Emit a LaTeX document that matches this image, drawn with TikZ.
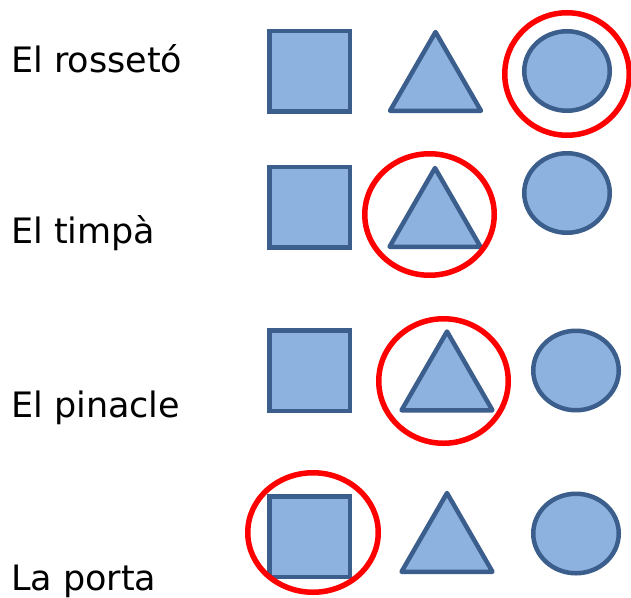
\documentclass[tikz,border=0pt]{standalone}
\usepackage{fontspec}
\setmainfont{DejaVu Sans}
\usepackage{tikz}
\usetikzlibrary{shapes.geometric}

\definecolor{bfill}{HTML}{8EB2E0}
\definecolor{bline}{HTML}{3B5E8C}

\begin{document}
\begin{tikzpicture}[x=1pt,y=1pt]
\tikzstyle{lbl}=[anchor=base west,inner sep=0pt,font=\fontsize{35}{40}\selectfont]
\tikzstyle{bsq}=[rectangle,draw=bline,fill=bfill,line width=4.5pt,inner sep=0pt,minimum size=80.5pt]
\tikzstyle{btri}=[regular polygon,regular polygon sides=3,draw=bline,fill=bfill,line width=4.5pt,line join=round,inner sep=0pt,minimum size=105pt]
\tikzstyle{bcirc}=[ellipse,draw=bline,fill=bfill,line width=4.5pt,inner sep=0pt,minimum width=85.5pt,minimum height=79.5pt]
\tikzstyle{rsel}=[ellipse,draw=red,line width=5.5pt,inner sep=0pt]
\useasboundingbox (0,0) rectangle (631,-597);

% El rosseto
\node[lbl] (rosseto) at (11,-72) {El rossetó};
\node[bsq] (sq1) at (309.5,-71) {};
\node[btri] (tri1) at (435.5,-84.5) {};
\node[bcirc] (cir1) at (567,-71) {};
\node[rsel,minimum width=124.5pt,minimum height=122.5pt] (sel1) at (567,-74) {};

% El timpa
\node[lbl] (timpa) at (11,-243) {El timpà};
\node[bsq] (sq2) at (309.5,-207) {};
\node[btri] (tri2) at (435,-220.5) {};
\node[bcirc] (cir2) at (567,-193) {};
\node[rsel,minimum width=129.5pt,minimum height=121.5pt] (sel2) at (429.5,-214.5) {};

% El pinacle
\node[lbl] (pinacle) at (11,-417) {El pinacle};
\node[bsq] (sq3) at (309.5,-370.5) {};
\node[btri] (tri3) at (447,-384) {};
\node[bcirc] (cir3) at (576,-370.5) {};
\node[rsel,minimum width=129.5pt,minimum height=124.5pt] (sel3) at (443.5,-381) {};

% La porta
\node[lbl] (porta) at (11,-590) {La porta};
\node[bsq] (sq4) at (309.5,-536.5) {};
\node[btri] (tri4) at (447,-545.5) {};
\node[bcirc] (cir4) at (576,-533.5) {};
\node[rsel,minimum width=130.5pt,minimum height=119.5pt] (sel4) at (313,-532.5) {};
\end{tikzpicture}
\end{document}
